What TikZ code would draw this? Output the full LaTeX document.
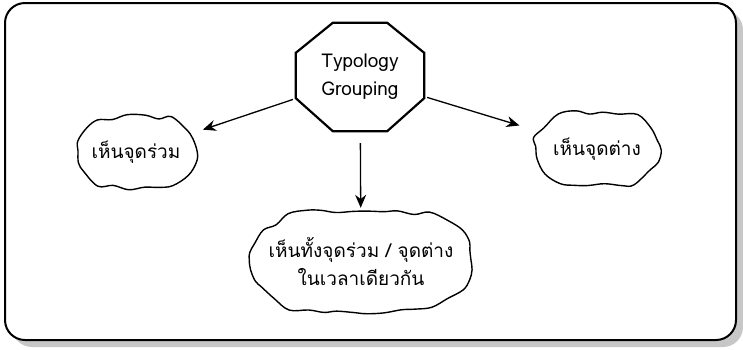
\documentclass[tikz,border=0pt]{standalone}
\usepackage{fontspec}
\newfontfamily\thaifont[Script=Thai]{Loma}
\usetikzlibrary{calc,arrows.meta}
% #1 node, #2 half width, #3 half height, #4 top half-width fraction, #5 pts per side edge, #6 pts per top edge
\newcommand{\hexcloud}[6]{%
  \gdef\cloudpts{}%
  \foreach \i in {0,...,5}{%
    \pgfmathtruncatemacro\ii{mod(\i+1,6)}%
    \pgfmathsetmacro\xa{{#2,#4*#2,-#4*#2,-#2,-#4*#2,#4*#2}[\i]}%
    \pgfmathsetmacro\ya{{0,-#3,-#3,0,#3,#3}[\i]}%
    \pgfmathsetmacro\xb{{#2,#4*#2,-#4*#2,-#2,-#4*#2,#4*#2}[\ii]}%
    \pgfmathsetmacro\yb{{0,-#3,-#3,0,#3,#3}[\ii]}%
    \pgfmathsetmacro\bx{{1,0,-1,-1,0,1}[\i]*0.13*#2}%
    \pgfmathsetmacro\by{{0,-1,0,0,1,0}[\i]*3}%
    \pgfmathtruncatemacro\nn{(\i==1||\i==4)?#6:#5}%
    \foreach \j in {1,...,\nn}{%
      \pgfmathsetmacro\ff{(\j-1)/\nn}%
      \pgfmathsetmacro\px{\xa+(\xb-\xa)*\ff+\bx*sin(180*\ff)+2.6*rand}%
      \pgfmathsetmacro\py{\ya+(\yb-\ya)*\ff+\by*sin(180*\ff)+2.6*rand}%
      \xdef\cloudpts{\cloudpts (\px,\py)}%
    }%
  }%
  \draw[cloudline, shift={(#1.center)}] plot[smooth cycle, tension=0.6] coordinates {\cloudpts};%
}
\begin{document}
\begin{tikzpicture}[x=1pt,y=-1pt,
  lbl/.style={font=\thaifont\fontsize{19}{28}\selectfont, align=center, inner sep=0pt},
  cloudline/.style={draw=black, line width=1.4pt},
  arr/.style={line width=1.3pt, -{Stealth[length=13pt,width=11pt]}}]
\useasboundingbox (0,0) rectangle (743,349);
% frame with shadow
\fill[black!22, rounded corners=20pt] (12,10) rectangle (743,347);
\draw[line width=2pt, fill=white, rounded corners=20pt] (5,3) rectangle (736,340);
% octagon
\node[lbl, minimum width=128pt, minimum height=108pt] (oct) at (360,77) {Typology\\Grouping};
\draw[line width=2.2pt, line join=miter]
  ($(oct.north west)+(37,0)$) -- ($(oct.north east)+(-37,0)$) --
  ($(oct.north east)+(0,30)$) -- ($(oct.south east)+(0,-33)$) --
  ($(oct.south east)+(-37,0)$) -- ($(oct.south west)+(37,0)$) --
  ($(oct.south west)+(0,-33)$) -- ($(oct.north west)+(0,30)$) -- cycle;
% clouds
\pgfmathsetseed{5}
\node[lbl, minimum width=122pt, minimum height=70pt] (c1) at (136,152) {เห็นจุดร่วม};
\hexcloud{c1}{60}{33}{0.62}{3}{5}
\node[lbl, minimum width=128pt, minimum height=70pt] (c2) at (597,149) {เห็นจุดต่าง};
\hexcloud{c2}{63}{34}{0.62}{3}{5}
\node[lbl, minimum width=220pt, minimum height=100pt] (c3) at (361,261) {เห็นทั้งจุดร่วม / จุดต่าง\\ในเวลาเดียวกัน};
\hexcloud{c3}{110}{48}{0.64}{5}{9}
% arrows
\draw[arr, shorten >=6pt, shorten <=3pt] (oct) -- (c1);
\draw[arr, shorten >=14pt, shorten <=3pt] (oct) -- (c2);
\draw[arr, shorten >=3pt, shorten <=12pt] (oct) -- (c3);
\end{tikzpicture}
\end{document}
